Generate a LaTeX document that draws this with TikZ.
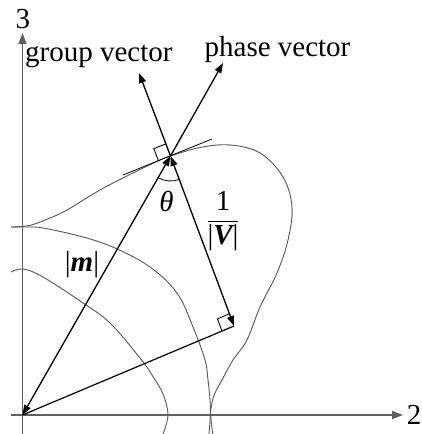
\documentclass[tikz,border=0pt]{standalone}
\usepackage{fontspec}
\setmainfont{Liberation Serif}
\usepackage{tikz}
\usetikzlibrary{arrows.meta,calc,angles}
\definecolor{curvegray}{RGB}{85,85,85}
\definecolor{axisgray}{RGB}{95,95,95}

\begin{document}
\begin{tikzpicture}[x=1pt, y=1pt,
    axisline/.style={draw=axisgray, line width=1.4pt, -{Triangle[length=11pt,width=8pt]}},
    vec/.style={line width=1.3pt, -{Triangle[length=10pt,width=7pt]}},
    dblvec/.style={line width=1.3pt, {Triangle[length=10pt,width=7pt]}-{Triangle[length=10pt,width=7pt]}},
    slowcurve/.style={draw=curvegray, line width=0.9pt},
    rightmark/.style={line width=0.9pt},
    lbl/.style={inner sep=0pt, font=\fontsize{29}{34}\selectfont}
  ]
  \useasboundingbox (0,0) rectangle (421,434);

  % points
  \coordinate (O) at (22.5,19);
  \coordinate (P) at (170.5,278);
  \coordinate (Q) at (234,108);
  \coordinate (G) at (139,361);
  \coordinate (H) at (223,371);
  \coordinate (T1) at (123,259);
  \coordinate (T2) at (212,295);
  \coordinate (vbot) at (22.5,0);
  \coordinate (vtop) at (22.5,401);
  \coordinate (hleft) at (11,19);
  \coordinate (hright) at (403,19);

  % slowness curves
  \draw[slowcurve] plot[smooth, tension=0.6] coordinates {(11,207) (22,207.5) (33,209.5) (50,216) (67,224) (100,244) (133,261) (160,274) (170.5,278) (200,286.5) (230,289) (260,281) (283,257) (292,227) (288,194) (277,161) (260,127) (247,94) (233,74) (222,54) (215,41) (211.5,29) (210.7,19) (212.7,0)};
  \draw[slowcurve] plot[smooth, tension=0.6] coordinates {(11,207) (25,207) (43,206) (83,197) (115,186) (150,167) (177,141) (193,107) (205,74) (208,54) (210,34) (210.3,19) (209,0)};
  \draw[slowcurve] plot[smooth, tension=0.6] coordinates {(11,162) (23,165) (43,157) (83,131) (110,111) (140,76) (152,59) (163,40) (168,19) (163,0)};

  % axes
  \draw[axisline] (vbot) -- (vtop);
  \draw[axisline] (hleft) -- (hright);
  \node[lbl] (ax3) at (23,415) {3};
  \node[lbl] (ax2) at (414,19) {2};

  % tangent and vectors
  \draw[line width=0.8pt] (T1) -- (T2);
  \draw[vec] (P) -- (G);
  \draw[vec] (P) -- (H);
  \draw[dblvec] (P) -- (O);
  \draw[dblvec] (P) -- (Q);
  \draw[line width=1.2pt] (O) -- (Q);

  % right angles
  \coordinate (pa) at ($(P)!13pt!(G)$);
  \coordinate (pb) at ($(P)!13pt!(T1)$);
  \draw[rightmark] (pa) -- ($(pa)+(pb)-(P)$) -- (pb);
  \coordinate (qa) at ($(Q)!13pt!(P)$);
  \coordinate (qb) at ($(Q)!13pt!(O)$);
  \draw[rightmark] (qa) -- ($(qa)+(qb)-(Q)$) -- (qb);
  \pic[draw, line width=0.8pt, angle radius=25pt] {angle=O--P--Q};

  % labels
  \node[lbl, anchor=west] (grp) at (25,378) {group vector};
  \node[lbl] (phs) at (277.5,384.5) {phase vector};
  \node[lbl] (th) at (166.5,232) {\itshape θ};
  \node[lbl] (mm) at (82,169) {|{\bfseries\itshape m}|};
  \node[lbl] (vv) at (223,213) {$\displaystyle\frac{\mbox{1}}{\mbox{|{\bfseries\itshape V}|}}$};
\end{tikzpicture}
\end{document}
